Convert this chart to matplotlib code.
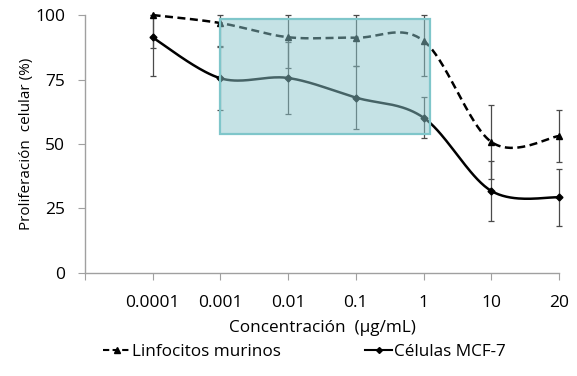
import numpy as np
import matplotlib
matplotlib.use("Agg")
import matplotlib.pyplot as plt
from matplotlib.patches import Rectangle
from matplotlib.lines import Line2D

categories = ["0.0001", "0.001", "0.01", "0.1", "1", "10", "20"]
linfocitos = [100.0, 96.9, 91.4, 91.2, 90.0, 50.8, 53.1]
linfocitos_err = [12.6, 9.3, 12.0, 11.0, 13.6, 14.2, 10.0]
mcf7 = [91.3, 75.5, 75.6, 68.0, 60.2, 31.8, 29.3]
mcf7_err = [15.0, 12.4, 14.0, 12.3, 8.0, 11.6, 11.0]
y_ticks = [0, 25, 50, 75, 100]

plt.rcParams['font.family'] = ['Open Sans', 'DejaVu Sans']

def smooth(xs, ys, n=40):
    xs = np.asarray(xs, float); ys = np.asarray(ys, float)
    P = np.column_stack([xs, ys])
    out = []
    for i in range(len(P) - 1):
        p0 = P[i - 1] if i > 0 else P[i]
        p1 = P[i]; p2 = P[i + 1]
        p3 = P[i + 2] if i + 2 < len(P) else P[i + 1]
        c1 = p1 + (p2 - p0) / 6.0
        c2 = p2 - (p3 - p1) / 6.0
        t = np.linspace(0, 1, n)[:, None]
        seg = (1 - t) ** 3 * p1 + 3 * (1 - t) ** 2 * t * c1 + 3 * (1 - t) * t ** 2 * c2 + t ** 3 * p2
        out.append(seg if i == 0 else seg[1:])
    s = np.vstack(out)
    return s[:, 0], s[:, 1]

def capped(vals, errs, top=100.0):
    v = np.asarray(vals, float); e = np.asarray(errs, float)
    up = np.minimum(e, top - v)
    return np.vstack([e, up])

fig = plt.figure(figsize=(5.77, 3.76), dpi=100)
ax = fig.add_axes([0.147, 0.274, 0.822, 0.686])

x = np.arange(1, len(categories) + 1)
errc = '#4a4a4a'
for vals, errs in [(linfocitos, linfocitos_err), (mcf7, mcf7_err)]:
    yerr = capped(vals, errs)
    eb = ax.errorbar(x, vals, yerr=yerr, fmt='none', ecolor=errc, elinewidth=0.9,
                     capsize=2.5, capthick=0.9, zorder=2)
    for art in eb.lines[1]:
        art.set_clip_on(False)
    for art in eb.lines[2]:
        art.set_clip_on(False)

sx, sy = smooth(x, linfocitos)
ax.plot(sx, sy, color='black', lw=1.8, ls=(0, (3.2, 1.8)), zorder=3, clip_on=False)
ax.plot(x, linfocitos, ls='none', marker='^', ms=5, color='black', zorder=4, clip_on=False)
sx, sy = smooth(x, mcf7)
ax.plot(sx, sy, color='black', lw=1.8, zorder=3, clip_on=False)
ax.plot(x, mcf7, ls='none', marker='D', ms=3.5, color='black', zorder=4, clip_on=False)

rect = Rectangle((2.0, 54.0), 3.09, 44.6, facecolor='#8dc7cd', alpha=0.5, edgecolor='none', zorder=5)
ax.add_patch(rect)
rect2 = Rectangle((2.0, 54.0), 3.09, 44.6, facecolor='none', edgecolor='#7fc6ca', lw=1.6, zorder=6)
ax.add_patch(rect2)

ax.set_xlim(0, len(categories))
ax.set_ylim(0, 100)
ax.set_yticks(y_ticks)
ax.set_xticks(np.arange(0, len(categories) + 1))
ax.set_xticklabels([''] + categories)
ax.tick_params(axis='x', which='major', length=5, color='#a0a0a0', labelsize=12.5, pad=11)
ax.tick_params(axis='y', length=5, color='#a0a0a0', labelsize=12.5, pad=9)
for sp in ['top', 'right']:
    ax.spines[sp].set_visible(False)
for sp in ['left', 'bottom']:
    ax.spines[sp].set_color('#a0a0a0')
    ax.spines[sp].set_linewidth(1.0)

ax.set_ylabel('Proliferación  celular (%)', fontsize=11, labelpad=1)
ax.set_xlabel('Concentración  (µg/mL)', fontsize=12.3, labelpad=6)

h1 = Line2D([], [], color='black', lw=1.5, ls=(0, (3, 1.6)), marker='^', ms=4)
h2 = Line2D([], [], color='black', lw=1.5, marker='D', ms=3)
fig.legend([h1, h2], ['Linfocitos murinos', 'Células MCF-7'], loc='center', bbox_to_anchor=(0.528, 0.064),
           ncol=2, frameon=False, fontsize=12.3, handlelength=1.6, handletextpad=0.1, columnspacing=4.9)

fig.savefig('out.png', dpi=100)
